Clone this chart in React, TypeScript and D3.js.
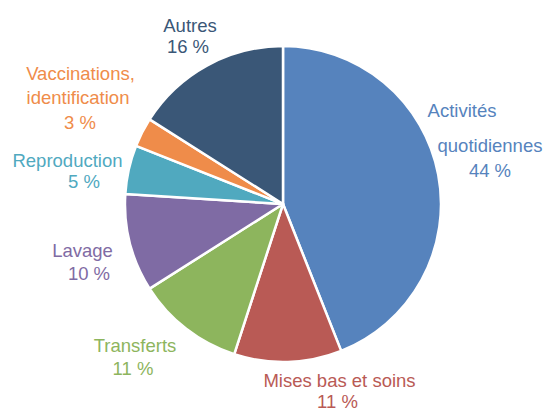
import React from "react";
import * as d3 from "d3";

const categories = [
  "Activités quotidiennes",
  "Mises bas et soins",
  "Transferts",
  "Lavage",
  "Reproduction",
  "Vaccinations, identification",
  "Autres",
];
const values = [44, 11, 11, 10, 5, 3, 16];
const colors = ["#5683bd", "#b95a55", "#8db55d", "#7f6ba4", "#50a9bf", "#ef8c4a", "#3a5777"];
// label lines per category
const labelLines = [
  ["Activités", "quotidiennes", "44 %"],
  ["Mises bas et soins", "11 %"],
  ["Transferts", "11 %"],
  ["Lavage", "10 %"],
  ["Reproduction", "5 %"],
  ["Vaccinations,", "identification", "3 %"],
  ["Autres", "16 %"],
];
// per-line label anchor points (center x, baseline y)
const labelPos = [
  [[462, 117], [490, 152], [490, 177]],
  [[339.5, 387], [337.5, 408]],
  [[135, 352], [133, 375]],
  [[82.5, 257], [89, 280]],
  [[67.5, 167], [84, 188]],
  [[80.5, 80], [78, 104], [80, 129]],
  [[190, 32], [188, 53]],
];

const W = 544;
const H = 410;
const cx = 283;
const cy = 204;
const R = 158;

export default function App() {
  const pie = d3.pie<number>().sort(null).value((d) => d)(values);
  const arc = d3.arc<d3.PieArcDatum<number>>().innerRadius(0).outerRadius(R);
  return (
    <svg
      width={W}
      height={H}
      style={{ position: "absolute", left: 0, top: 0, background: "#fff" }}
      fontFamily="'Liberation Sans', Arial, sans-serif"
    >
      <g transform={`translate(${cx},${cy})`}>
        {pie.map((p, i) => (
          <path key={categories[i]} d={arc(p) || ""} fill={colors[i]} stroke="#fff" strokeWidth={2.5} strokeLinejoin="round" />
        ))}
      </g>
      {labelLines.map((lines, i) => (
        <g key={"l" + i} fill={colors[i]} fontSize={18.5} textAnchor="middle">
          {lines.map((t, j) => (
            <text key={j} x={labelPos[i][j][0]} y={labelPos[i][j][1]}>
              {t}
            </text>
          ))}
        </g>
      ))}
    </svg>
  );
}
